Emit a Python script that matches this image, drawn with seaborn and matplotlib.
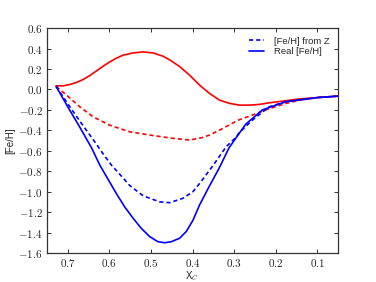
import matplotlib
matplotlib.use("Agg")
import matplotlib.pyplot as plt
from matplotlib.ticker import FuncFormatter, MultipleLocator
from matplotlib.lines import Line2D
import seaborn as sns


# values (x runs from 0.75 down to 0.05)
red_solid_x = [0.728, 0.711, 0.695, 0.679, 0.663, 0.647, 0.631, 0.615, 0.599, 0.583,
               0.567, 0.543, 0.519, 0.495, 0.471, 0.455, 0.431, 0.407, 0.383, 0.359,
               0.335, 0.311, 0.287, 0.263, 0.239, 0.215, 0.183, 0.147, 0.097, 0.05]
red_solid_y = [0.036, 0.036, 0.049, 0.069, 0.098, 0.137, 0.182, 0.228, 0.270, 0.307,
               0.336, 0.358, 0.368, 0.358, 0.326, 0.290, 0.225, 0.140, 0.043, -0.039,
               -0.104, -0.136, -0.153, -0.153, -0.146, -0.130, -0.114, -0.094, -0.078, -0.065]

red_dash_x = [0.728, 0.703, 0.671, 0.639, 0.599, 0.551, 0.503, 0.447, 0.407, 0.376,
              0.359, 0.336, 0.29, 0.256, 0.224, 0.176, 0.136, 0.097, 0.05]
red_dash_y = [0.03, -0.055, -0.17, -0.267, -0.35, -0.414, -0.446, -0.478, -0.495, -0.47,
              -0.446, -0.40, -0.30, -0.25, -0.20, -0.136, -0.10, -0.078, -0.065]

blue_dash_x = [0.728, 0.70, 0.671, 0.639, 0.615, 0.595, 0.575, 0.551, 0.519, 0.479,
               0.455, 0.423, 0.399, 0.383, 0.35, 0.319, 0.296, 0.287, 0.256, 0.216,
               0.176, 0.136, 0.097, 0.05]
blue_dash_y = [0.03, -0.14, -0.31, -0.49, -0.63, -0.74, -0.83, -0.94, -1.04, -1.10,
               -1.108, -1.065, -1.00, -0.92, -0.74, -0.56, -0.47, -0.42, -0.30, -0.17,
               -0.12, -0.10, -0.078, -0.065]

blue_solid_x = [0.728, 0.70, 0.671, 0.643, 0.623, 0.603, 0.583, 0.563, 0.543, 0.523,
                0.503, 0.483, 0.467, 0.451, 0.431, 0.415, 0.399, 0.383, 0.36, 0.336,
                0.318, 0.312, 0.30, 0.272, 0.232, 0.176, 0.14, 0.097, 0.05]
blue_solid_y = [0.03, -0.17, -0.37, -0.57, -0.74, -0.88, -1.02, -1.15, -1.26, -1.36,
                -1.44, -1.49, -1.50, -1.49, -1.456, -1.39, -1.28, -1.13, -0.95, -0.77,
                -0.62, -0.57, -0.50, -0.34, -0.20, -0.12, -0.10, -0.078, -0.065]

legend_labels = ["[Fe/H] from Z", "Real [Fe/H]"]


sns.set_style("ticks")
plt.rcParams["font.family"] = ["Liberation Sans", "DejaVu Sans"]
plt.rcParams["mathtext.fontset"] = "cm"
plt.rcParams["xtick.direction"] = "in"
plt.rcParams["ytick.direction"] = "in"

fig = plt.figure(figsize=(3.76, 2.82), dpi=100)
ax = fig.add_axes([0.125, 0.103, 0.774, 0.797])

lw = 1.2
dash = (2.5, 1.8)
sns.lineplot(x=red_solid_x, y=red_solid_y, color="#ff0000", lw=lw, sort=False,
             estimator=None, ax=ax)
sns.lineplot(x=red_dash_x, y=red_dash_y, color="#ff0000", lw=lw, sort=False,
             estimator=None, ax=ax, linestyle=(0, dash))
sns.lineplot(x=blue_dash_x, y=blue_dash_y, color="#0000ff", lw=lw, sort=False,
             estimator=None, ax=ax, linestyle=(0, dash))
sns.lineplot(x=blue_solid_x, y=blue_solid_y, color="#0000ff", lw=lw, sort=False,
             estimator=None, ax=ax)

ax.set_xlim(0.75, 0.05)
ax.set_ylim(-1.6, 0.6)
ax.xaxis.set_major_locator(MultipleLocator(0.1))
ax.yaxis.set_major_locator(MultipleLocator(0.2))


def math_fmt(v, pos):
    if abs(v) < 1e-9:
        v = 0.0
    return rf"${v:.1f}$"


ax.xaxis.set_major_formatter(FuncFormatter(math_fmt))
ax.yaxis.set_major_formatter(FuncFormatter(math_fmt))
ax.tick_params(axis="both", which="major", labelsize=8, length=3, width=0.7,
               pad=3, top=True, right=True, colors="#333333", labelcolor="#222222")

for sp in ax.spines.values():
    sp.set_visible(True)
    sp.set_color("#333333")
    sp.set_linewidth(0.9)

ax.set_xlabel("X$_C$", fontsize=7, labelpad=0)
ax.set_ylabel("[Fe/H]", fontsize=7, labelpad=2)

handles = [Line2D([], [], color="#0000ff", lw=lw, linestyle=(0, dash)),
           Line2D([], [], color="#0000ff", lw=lw)]
ax.legend(handles, legend_labels, loc="upper right", frameon=False, fontsize=6.8,
          labelspacing=0.15, handlelength=1.6, handletextpad=1.0, borderaxespad=0.5)

fig.savefig("out.png", dpi=100)
